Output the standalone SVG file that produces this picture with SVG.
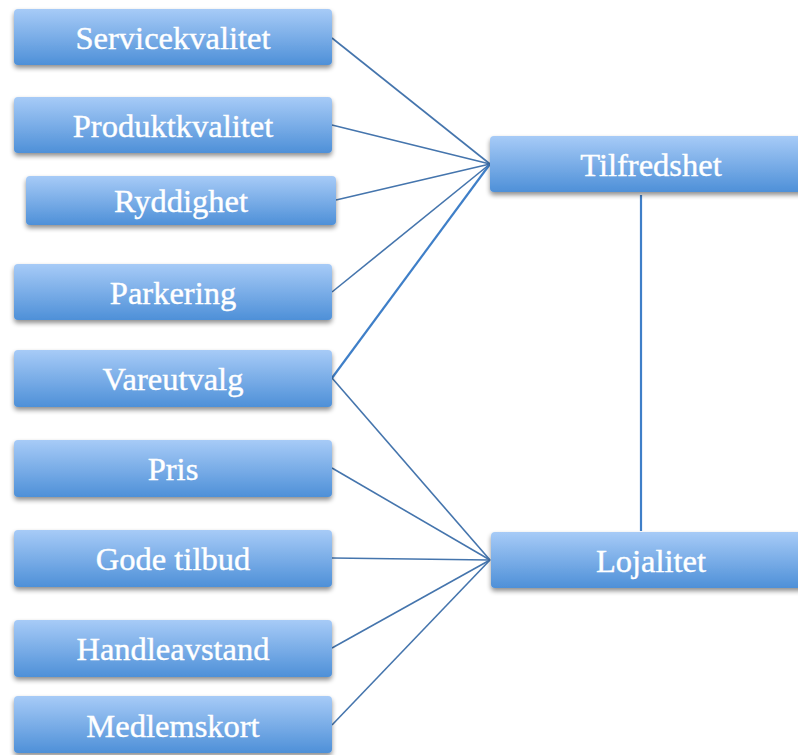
<svg xmlns="http://www.w3.org/2000/svg" width="798" height="755" viewBox="0 0 798 755">
  <defs>
    <linearGradient id="boxFill" x1="0" y1="0" x2="0" y2="1">
      <stop offset="0" stop-color="#a7cbf7"/>
      <stop offset="1" stop-color="#4e90d8"/>
    </linearGradient>
    <filter id="drop" x="-10%" y="-20%" width="120%" height="160%">
      <feGaussianBlur in="SourceAlpha" stdDeviation="2.5"/>
      <feOffset dx="0" dy="3" result="b"/>
      <feComponentTransfer><feFuncA type="linear" slope="0.45"/></feComponentTransfer>
      <feMerge><feMergeNode/><feMergeNode in="SourceGraphic"/></feMerge>
    </filter>
  </defs>
  <style>
    .box rect { fill: url(#boxFill); filter: url(#drop); }
    .box text { font-family: "Liberation Serif", "DejaVu Serif", serif; font-size: 32.5px; fill: #ffffff; stroke: #ffffff; stroke-width: 0.4; text-anchor: middle; dominant-baseline: central; }
    .links line { stroke: #4575ad; stroke-width: 1.6; }
  </style>
  <rect width="798" height="755" fill="#ffffff"/>

  <!-- connectors -->
  <g id="connectors" class="links">
    <line x1="332" y1="38" x2="490" y2="164"/>
    <line x1="332" y1="125" x2="490" y2="164"/>
    <line x1="336" y1="200" x2="490" y2="164"/>
    <line x1="332" y1="292" x2="490" y2="164"/>
    <line x1="332" y1="378" x2="490" y2="164" style="stroke:#3f7fc8;stroke-width:2.2"/>
    <line x1="332" y1="378" x2="490" y2="560"/>
    <line x1="332" y1="468" x2="490" y2="560"/>
    <line x1="332" y1="558" x2="490" y2="560"/>
    <line x1="332" y1="648" x2="490" y2="560"/>
    <line x1="332" y1="725" x2="490" y2="560"/>
    <line x1="641" y1="195" x2="641" y2="531" style="stroke:#3f7fc8;stroke-width:2.2"/>
  </g>

  <!-- left-hand factors -->
  <g id="servicekvalitet" class="box"><rect x="14" y="9" width="318" height="56" rx="4"/><text x="173" y="38">Servicekvalitet</text></g>
  <g id="produktkvalitet" class="box"><rect x="14" y="97" width="318" height="56" rx="4"/><text x="173" y="126">Produktkvalitet</text></g>
  <g id="ryddighet" class="box"><rect x="26" y="176" width="310" height="49" rx="4"/><text x="181" y="201">Ryddighet</text></g>
  <g id="parkering" class="box"><rect x="14" y="264" width="318" height="56" rx="4"/><text x="173" y="293">Parkering</text></g>
  <g id="vareutvalg" class="box"><rect x="14" y="350" width="318" height="57" rx="4"/><text x="173" y="379">Vareutvalg</text></g>
  <g id="pris" class="box"><rect x="14" y="440" width="318" height="57" rx="4"/><text x="173" y="469">Pris</text></g>
  <g id="gode-tilbud" class="box"><rect x="14" y="530" width="318" height="57" rx="4"/><text x="173" y="559">Gode tilbud</text></g>
  <g id="handleavstand" class="box"><rect x="14" y="620" width="318" height="57" rx="4"/><text x="173" y="649">Handleavstand</text></g>
  <g id="medlemskort" class="box"><rect x="14" y="696" width="318" height="57" rx="4"/><text x="173" y="726">Medlemskort</text></g>

  <!-- outcomes -->
  <g id="tilfredshet" class="box"><rect x="490" y="136" width="330" height="56" rx="4"/><text x="651" y="165">Tilfredshet</text></g>
  <g id="lojalitet" class="box"><rect x="491" y="532" width="330" height="56" rx="4"/><text x="651" y="561">Lojalitet</text></g>
</svg>
